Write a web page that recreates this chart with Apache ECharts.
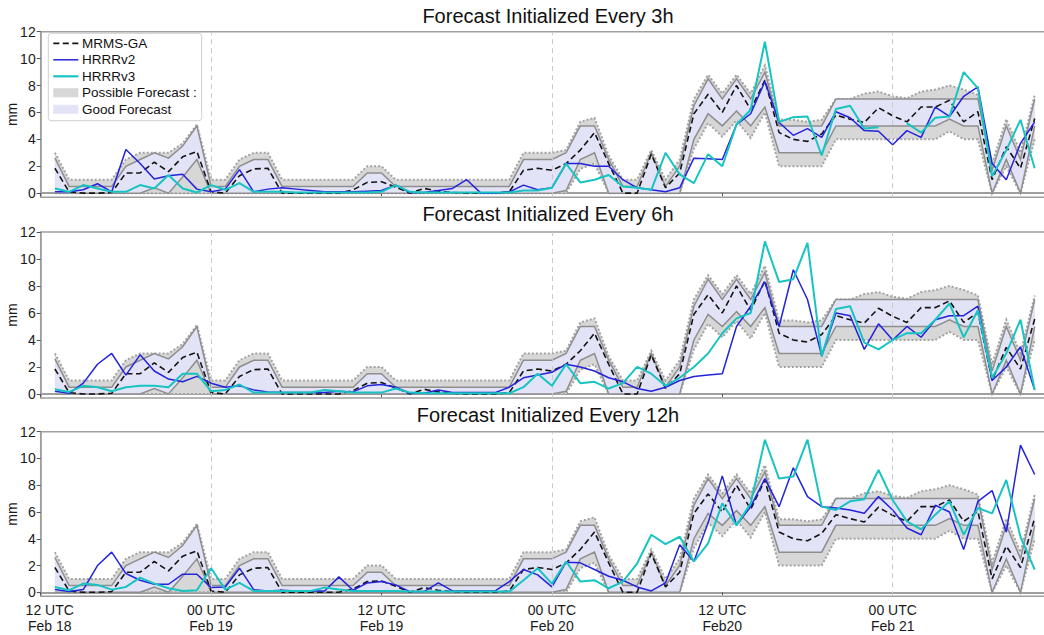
<!DOCTYPE html>
<html>
<head>
<meta charset="utf-8">
<script src="https://cdn.jsdelivr.net/npm/echarts@6/dist/echarts.min.js"></script>
<style>
  html, body { margin: 0; padding: 0; background: #fff; }
  #chart { width: 1044px; height: 635px; }
</style>
</head>
<body>
<div id="chart"></div>
<script>
// Hourly accumulated precipitation (mm), first value valid at 13 UTC Feb 18 (hour 1).
const FIRST_HOUR = 1;

const mrms = [
  1.85, 0.1, 0.0, 0.0, 0.05, 1.5, 1.5, 2.3, 1.6, 2.7,
  3.1, 0.1, 0.0, 1.3, 1.8, 1.85, 0.0, 0.0, 0.0, 0.0,
  0.0, 0.25, 0.8, 0.85, 0.45, 0.0, 0.35, 0.15, 0.05, 0.0,
  0.0, 0.0, 0.1, 1.7, 1.85, 1.7, 2.2, 3.2, 4.5, 2.2,
  0.0, 0.0, 2.9, 0.4, 1.5, 5.9, 7.35, 6.0, 8.0, 6.2,
  8.4, 4.5, 4.0, 3.85, 4.4, 5.8, 5.5, 5.25, 6.35, 5.75,
  5.3, 6.4, 6.4, 6.9, 5.3, 6.05, 1.0, 3.45, 1.85, 5.55
];

const goodHigh = [
  2.6, 0.5, 0.5, 0.5, 0.5, 2.0, 2.5, 3.0, 2.6, 3.5,
  5.0, 0.5, 0.5, 2.0, 2.5, 2.5, 0.5, 0.5, 0.5, 0.5,
  0.5, 0.5, 1.5, 1.5, 0.5, 0.5, 0.5, 0.5, 0.5, 0.5,
  0.5, 0.5, 0.5, 2.5, 2.5, 2.5, 3.0, 5.0, 5.0, 2.5,
  0.5, 0.5, 3.0, 0.5, 2.0, 6.5, 8.5, 7.0, 8.5, 7.0,
  9.0, 5.0, 5.0, 5.0, 5.0, 7.0, 7.0, 7.0, 7.0, 7.0,
  7.0, 7.0, 7.0, 7.0, 7.0, 7.0, 1.7, 5.0, 2.5, 7.0
];

const goodLow = [
  0, 0, 0, 0, 0, 0, 0, 0.4, 0, 1.2,
  2.5, 0, 0, 0, 0, 0, 0, 0, 0, 0,
  0, 0, 0, 0, 0, 0, 0, 0, 0, 0,
  0, 0, 0, 0, 0, 0, 0.2, 2.5, 3.0, 0,
  0, 0, 0, 0, 0, 4.0, 5.9, 5.0, 6.1, 5.0,
  6.4, 3.0, 3.0, 3.0, 3.0, 5.0, 5.0, 5.0, 5.0, 5.0,
  5.0, 5.0, 5.0, 5.5, 5.0, 5.0, 0, 2.5, 0, 5.0
];

const possibleHigh = [
  3.0, 1.0, 1.0, 1.0, 1.0, 2.5, 3.0, 3.0, 3.0, 3.7,
  5.1, 1.0, 1.0, 2.5, 3.0, 3.0, 1.0, 1.0, 1.0, 1.0,
  1.0, 1.0, 2.0, 2.0, 1.0, 1.0, 1.0, 1.0, 1.0, 1.0,
  1.0, 1.0, 1.0, 3.0, 3.0, 3.0, 3.2, 5.3, 5.6, 2.8,
  1.0, 1.0, 3.2, 1.0, 2.5, 7.0, 8.8, 7.4, 8.8, 7.4,
  9.5, 5.45, 5.45, 5.3, 5.45, 7.0, 7.0, 7.4, 7.55, 7.2,
  7.05, 7.55, 7.7, 8.0, 7.7, 7.3, 2.2, 5.5, 3.0, 7.3
];

const possibleLow = [
  0, 0, 0, 0, 0, 0, 0, 0, 0, 0,
  0, 0, 0, 0, 0, 0, 0, 0, 0, 0,
  0, 0, 0, 0, 0, 0, 0, 0, 0, 0,
  0, 0, 0, 0, 0, 0, 0, 1.8, 2.2, 0,
  0, 0, 0, 0, 0, 3.3, 5.2, 4.2, 5.4, 4.1,
  6.0, 2.0, 2.0, 2.0, 2.0, 4.0, 4.0, 4.0, 4.0, 4.0,
  4.0, 4.0, 4.0, 4.6, 4.0, 4.0, 0, 2.0, 0, 4.0
];

// HRRR forecasts, one pair of series per initialization frequency
const hrrrV2Every3h = [
  0.1, 0.1, 0.25, 0.7, 0.1, 3.25, 2.2, 1.05, 1.3, 1.4,
  0.3, 0.1, 0.3, 1.75, 0.1, 0.3, 0.4, 0.3, 0.2, 0.1,
  0.1, 0.1, 0.15, 0.2, 0.6, 0.05, 0.05, 0.2, 0.35, 1.0,
  0.0, 0.0, 0.1, 0.6, 0.25, 0.4, 2.2, 2.2, 2.0, 2.0,
  1.0, 0.4, 0.25, 0.1, 0.4, 2.6, 2.55, 2.5, 5.1, 5.9,
  8.3, 5.25, 4.3, 4.8, 4.15, 6.05, 5.6, 4.65, 4.6, 3.6,
  4.65, 4.15, 6.4, 5.7, 7.2, 7.9, 2.2, 1.0, 3.7, 5.3
];

const hrrrV3Every3h = [
  0.35, 0.1, 0.6, 0.35, 0.1, 0.1, 0.6, 0.35, 1.35, 0.35,
  0.05, 0.6, 0.25, 0.75, 0.1, 0.1, 0.1, 0.05, 0.05, 0.05,
  0.05, 0.05, 0.05, 0.1, 0.6, 0.1, 0.05, 0.05, 0.05, 0.05,
  0.05, 0.05, 0.05, 0.2, 0.2, 0.4, 2.2, 0.8, 1.0, 1.35,
  0.5, 0.4, 0.25, 3.0, 1.4, 0.75, 2.9, 2.0, 5.1, 6.2,
  11.25, 5.3, 5.65, 5.7, 2.8, 6.25, 6.5, 4.8, 4.9, null,
  5.2, 4.5, 5.6, 5.7, 9.0, 7.8, 1.25, 3.2, 5.45, 1.85
];

const hrrrV2Every6h = [
  0.2, 0.05, 0.8, 2.2, 3.0, 1.4, 2.9, 1.7, 1.1, 0.9,
  1.3, 0.8, 0.5, 0.6, 0.3, 0.15, 0.1, 0.1, 0.1, 0.1,
  0.2, 0.15, 0.6, 0.7, 0.5, 0.05, 0.05, 0.3, 0.1, 0.1,
  0.1, 0.1, 0.5, 1.2, 1.4, 1.6, 2.2, 2.0, 1.7, 1.2,
  0.9, 0.4, 0.2, 0.5, 1.0, 1.3, 1.4, 1.5, 5.0, 6.5,
  8.3, 5.0, 9.2, 7.0, 2.8, 6.0, 5.8, 3.3, 5.2, 4.0,
  5.0, 4.2, 5.5, 5.8, 5.8, 6.5, 1.0, 2.0, 3.5, 0.3
];

const hrrrV3Every6h = [
  0.35, 0.15, 0.6, 0.5, 0.2, 0.5, 0.6, 0.6, 0.5, 1.5,
  1.5, 0.2, 0.3, 0.7, 0.1, 0.1, 0.1, 0.1, 0.1, 0.3,
  0.2, 0.1, 0.1, 0.1, 0.4, 0.1, 0.05, 0.05, 0.05, 0.05,
  0.05, 0.05, 0.05, 0.5, 1.5, 0.6, 2.2, 0.8, 0.9, 0.4,
  0.8, 2.0, 1.5, 0.6, 1.2, 2.0, 3.0, 4.5, 5.6, 6.0,
  11.3, 8.3, 8.5, 11.2, 2.8, 6.3, 6.5, 3.8, 3.3, 4.0,
  4.5, 4.5, 5.5, 6.7, 4.2, 6.2, 1.2, 3.0, 5.5, 0.3
];

const hrrrV2Every12h = [
  0.2, 0.05, 0.2, 2.0, 3.0, 1.4, 0.9, 0.6, 0.6, 1.35,
  1.35, 0.35, 0.4, 1.8, 0.2, 0.1, 0.15, 0.1, 0.1, 0.1,
  1.15, 0.15, 0.7, 0.8, 0.55, 0.05, 0.05, 0.7, 0.1, 0.1,
  0.1, 0.1, 0.8, 1.7, 1.3, 0.4, 2.25, 2.2, 1.7, 1.2,
  0.9, 0.4, 0.1, 0.7, 3.55, 2.3, 5.2, 8.7, 5.0, 6.4,
  8.5, 6.4, 9.3, 7.15, 6.4, 6.3, 6.15, 5.9, 7.15, 6.15,
  4.8, 4.3, 6.5, 6.0, 3.2, 6.8, 7.6, 4.5, 11.0, 8.8
];

const hrrrV3Every12h = [
  0.4, 0.15, 0.65, 0.55, 0.2, 0.4, 1.1, 0.65, 0.3, 0.1,
  0.15, 1.8, 0.2, 0.7, 0.1, 0.1, 0.1, 0.1, 0.1, 0.35,
  0.2, 0.1, 0.1, 0.1, 0.1, 0.05, 0.05, 0.05, 0.05, 0.05,
  0.05, 0.05, 0.05, 0.9, 1.8, 0.65, 2.3, 0.8, 0.9, 0.3,
  0.8, 2.15, 4.3, 3.6, 4.15, 2.3, 3.65, 6.65, 5.0, 6.65,
  11.4, 8.5, 8.65, 11.4, 6.4, 6.15, 6.8, 6.95, 9.15, 6.9,
  5.3, 4.7, 5.8, 6.8, 4.3, 6.3, 5.9, 8.4, 4.15, 1.7
];

const panelTitles = [
  'Forecast Initialized Every 3h',
  'Forecast Initialized Every 6h',
  'Forecast Initialized Every 12h'
];
const panelForecasts = [
  [hrrrV2Every3h, hrrrV3Every3h],
  [hrrrV2Every6h, hrrrV3Every6h],
  [hrrrV2Every12h, hrrrV3Every12h]
];

const xTickLabels = ['12 UTC\nFeb 18', '00 UTC\nFeb 19', '12 UTC\nFeb 19', '00 UTC\nFeb 20', '12 UTC\nFeb20', '00 UTC\nFeb 21'];
const midnightHours = [12, 36, 60];
const yTicks = [0, 2, 4, 6, 8, 10, 12];

// ---- styling ----
const FONT = 'Liberation Sans, Arial, sans-serif';
const C = {
  mrms: '#141414',
  v2: '#2323dc',
  v3: '#18c4c2',
  possibleFill: '#d7d7d7',
  possibleEdge: '#a3a3a3',
  goodFill: '#e3e3f7',
  goodEdge: '#8e8e8e',
  frame: '#9e9e9e',
  text: '#1a1a1a'
};

const grids = [
  { left: 40.7, right: -12, top: 31.7, height: 165.5 },
  { left: 40.7, right: -12, top: 232, height: 166 },
  { left: 40.7, right: -12, top: 431.7, height: 164.6 }
];
const titleY = [16, 214, 415];

function pairs(values) {
  return values.map((v, i) => [FIRST_HOUR + i, v]);
}

// Band between two bounds, drawn as one filled polygon plus its two edges
function bandSeries(p, lows, highs, fill, edge, dash, z) {
  return {
    type: 'custom',
    coordinateSystem: 'cartesian2d',
    xAxisIndex: p,
    yAxisIndex: p,
    silent: true,
    z: z,
    data: [[FIRST_HOUR, lows[0]]],
    renderItem: (params, api) => {
      const top = highs.map((v, i) => api.coord([FIRST_HOUR + i, v]));
      const bottom = lows.map((v, i) => api.coord([FIRST_HOUR + i, v]));
      const poly = top.concat(bottom.slice().reverse());
      return {
        type: 'group',
        children: [
          { type: 'polygon', shape: { points: poly }, style: { fill: fill, stroke: null } },
          { type: 'polyline', shape: { points: top }, style: { stroke: edge, lineWidth: dash ? 2 : 1.5, lineDash: dash, fill: null } },
          { type: 'polyline', shape: { points: bottom }, style: { stroke: edge, lineWidth: dash ? 2 : 1.5, lineDash: dash, fill: null } }
        ]
      };
    }
  };
}

const series = [];
const xAxes = [];
const yAxes = [];

grids.forEach((g, p) => {
  const isBottom = p === grids.length - 1;
  xAxes.push({
    gridIndex: p,
    type: 'value',
    min: 0,
    max: 71.5,
    interval: 12,
    axisLine: { show: true, lineStyle: { color: C.frame, width: 2 } },
    axisTick: { show: true, length: 3, lineStyle: { color: '#555', width: 1 } },
    splitLine: { show: false },
    axisLabel: {
      show: isBottom,
      color: C.text,
      fontSize: 14,
      lineHeight: 16,
      margin: 6,
      fontFamily: FONT,
      formatter: (v) => {
        const label = xTickLabels[Math.round(v / 12)] || '';
        if (v === 0) return label.split('\n').map(s => '{first|' + s + '}').join('\n');
        return label;
      },
      rich: {
        first: { padding: [0, 0, 0, 18], fontSize: 14, lineHeight: 16, color: C.text, fontFamily: FONT }
      }
    }
  });
  yAxes.push({
    gridIndex: p,
    type: 'value',
    min: -0.3,
    max: 12,
    name: 'mm',
    nameLocation: 'middle',
    nameRotate: 90,
    nameGap: 22,
    nameMoveOverlap: false,
    nameTextStyle: { color: C.text, fontSize: 14, fontFamily: FONT },
    axisLine: { show: true, lineStyle: { color: C.frame, width: 1.5 } },
    axisTick: { show: true, length: 4, customValues: yTicks, lineStyle: { color: '#555' } },
    splitLine: { show: false },
    axisLabel: {
      customValues: yTicks,
      color: C.text,
      fontSize: 14,
      margin: 5,
      fontFamily: FONT
    }
  });

  const base = { xAxisIndex: p, yAxisIndex: p, type: 'line', symbol: 'none', silent: true, animation: false };

  series.push(bandSeries(p, possibleLow, possibleHigh, C.possibleFill, C.possibleEdge, [2, 2], 1));
  series.push(bandSeries(p, goodLow, goodHigh, C.goodFill, C.goodEdge, null, 2));

  series.push(Object.assign({}, base, {
    name: 'MRMS-GA', z: 3,
    data: pairs(mrms),
    lineStyle: { color: C.mrms, width: 1.6, type: [6, 3.5] },
    markLine: {
      silent: true, symbol: 'none', label: { show: false },
      lineStyle: { color: '#c9c9c9', type: [5, 4], width: 1 },
      data: midnightHours.map(h => ({ xAxis: h }))
    }
  }));
  series.push(Object.assign({}, base, {
    name: 'HRRRv2', z: 4,
    data: pairs(panelForecasts[p][0]),
    lineStyle: { color: C.v2, width: 1.5 }
  }));
  series.push(Object.assign({}, base, {
    name: 'HRRRv3', z: 5,
    data: pairs(panelForecasts[p][1]),
    connectNulls: false,
    lineStyle: { color: C.v3, width: 2 }
  }));
});

// Titles and legend box
const graphic = [];
panelTitles.forEach((t, p) => {
  graphic.push({
    type: 'text', x: 548, y: titleY[p], z: 10,
    style: { text: t, align: 'center', verticalAlign: 'middle', fontSize: 20, fill: '#111', fontFamily: FONT }
  });
});

const legendItems = [
  { label: 'MRMS-GA', kind: 'line', color: C.mrms, dash: [6, 3.5], width: 1.8 },
  { label: 'HRRRv2', kind: 'line', color: C.v2, width: 1.5 },
  { label: 'HRRRv3', kind: 'line', color: C.v3, width: 2.2 },
  { label: 'Possible Forecast :', kind: 'patch', color: C.possibleFill },
  { label: 'Good Forecast', kind: 'patch', color: C.goodFill }
];
const legendChildren = [{
  type: 'rect', shape: { x: 48.3, y: 33.3, width: 153.4, height: 87.4, r: 3 },
  style: { fill: 'rgba(255,255,255,0.92)', stroke: '#cfcfcf', lineWidth: 1 }
}];
legendItems.forEach((it, i) => {
  const cy = 43.3 + i * 16.5;
  if (it.kind === 'line') {
    legendChildren.push({
      type: 'line', shape: { x1: 53.3, y1: cy, x2: 78.3, y2: cy },
      style: { stroke: it.color, lineWidth: it.width, lineDash: it.dash || null }
    });
  } else {
    legendChildren.push({
      type: 'rect', shape: { x: 53.3, y: cy - 4.5, width: 25, height: 9 },
      style: { fill: it.color }
    });
  }
  legendChildren.push({
    type: 'text', x: 82, y: cy,
    style: { text: it.label, verticalAlign: 'middle', fontSize: 13.5, fill: '#111', fontFamily: FONT }
  });
});
graphic.push({ type: 'group', z: 20, children: legendChildren });

const chart = echarts.init(document.getElementById('chart'), null, { renderer: 'svg' });
chart.setOption({
  animation: false,
  backgroundColor: '#fff',
  grid: grids.map(g => Object.assign({
    show: true, borderColor: C.frame, borderWidth: 1.5, backgroundColor: 'transparent',
    containLabel: false, outerBoundsMode: 'none'
  }, g)),
  xAxis: xAxes,
  yAxis: yAxes,
  series: series,
  graphic: graphic
});
</script>
</body>
</html>
